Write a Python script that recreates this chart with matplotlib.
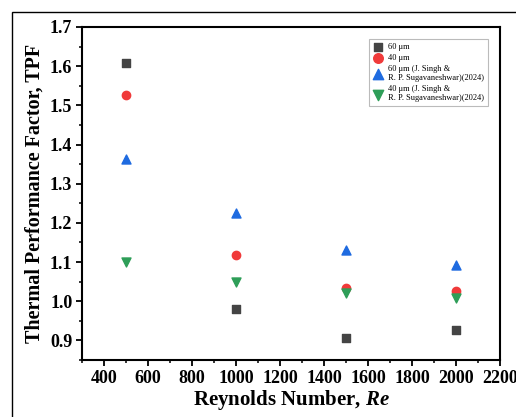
import numpy as np
import matplotlib.pyplot as plt
from matplotlib.patches import Rectangle
from matplotlib.ticker import MultipleLocator

plt.rcParams['font.family'] = ['Liberation Serif', 'DejaVu Serif']
plt.rcParams['mathtext.fontset'] = 'custom'
plt.rcParams['mathtext.it'] = 'Liberation Serif:italic:bold'

# Reynolds numbers and thermal performance factor for each case
re = [500, 1000, 1500, 2000]
tpf_60 = [1.607, 0.980, 0.906, 0.926]
tpf_40 = [1.527, 1.117, 1.035, 1.025]
tpf_60_ref = [1.362, 1.224, 1.132, 1.093]
tpf_40_ref = [1.099, 1.049, 1.020, 1.009]

labels = ['60 μm', '40 μm',
          '60 μm (J. Singh &\nR. P. Sugavaneshwar)(2024)',
          '40 μm (J. Singh &\nR. P. Sugavaneshwar)(2024)']

fig = plt.figure(figsize=(5.16, 4.17), dpi=100)
ax = fig.add_axes([82/516, 1 - 360/417, (500-82)/516, (360-27)/417])

# outer frame around the figure
fig.patches.append(Rectangle((12/516, -0.1), 1.2, 1 - 12/417 + 0.1,
                             transform=fig.transFigure, fill=False,
                             edgecolor='black', linewidth=1.0))

ax.scatter(re, tpf_60, marker='s', s=28, c='#444444', label=labels[0], zorder=3)
ax.scatter(re, tpf_40, marker='o', s=36, c='#f03a3a', label=labels[1], zorder=3)
ax.scatter(re, tpf_60_ref, marker='^', s=42, c='#1f6be0', label=labels[2], zorder=3)
ax.scatter(re, tpf_40_ref, marker='v', s=42, c='#2e9e58', label=labels[3], zorder=3)

ax.set_xlim(300, 2200)
ax.set_ylim(0.85, 1.7)
ax.xaxis.set_major_locator(MultipleLocator(200))
ax.xaxis.set_minor_locator(MultipleLocator(100))
ax.yaxis.set_major_locator(MultipleLocator(0.1))
ax.yaxis.set_minor_locator(MultipleLocator(0.05))
ax.tick_params(which='major', direction='out', length=4, width=1.3,
               labelsize=13, pad=3)
ax.tick_params(which='minor', direction='out', length=2.5, width=1.1)
for lab in ax.get_xticklabels() + ax.get_yticklabels():
    lab.set_fontweight('bold')
for sp in ax.spines.values():
    sp.set_linewidth(1.5)

ax.set_xlabel('Reynolds Number, $\\mathit{Re}$', fontsize=15,
              fontweight='bold', labelpad=1)
ax.set_ylabel('Thermal Performance Factor, TPF', fontsize=14.5,
              fontweight='bold', labelpad=4)

leg = ax.legend(loc='upper right', bbox_to_anchor=(0.971, 0.964),
                borderaxespad=0, fontsize=6, frameon=True, fancybox=False,
                edgecolor='#aaaaaa', handletextpad=0.5, borderpad=0.5,
                labelspacing=0.35, handlelength=1.3, markerscale=1.15)
leg.get_frame().set_linewidth(0.8)

fig.savefig('out.png', dpi=100)
